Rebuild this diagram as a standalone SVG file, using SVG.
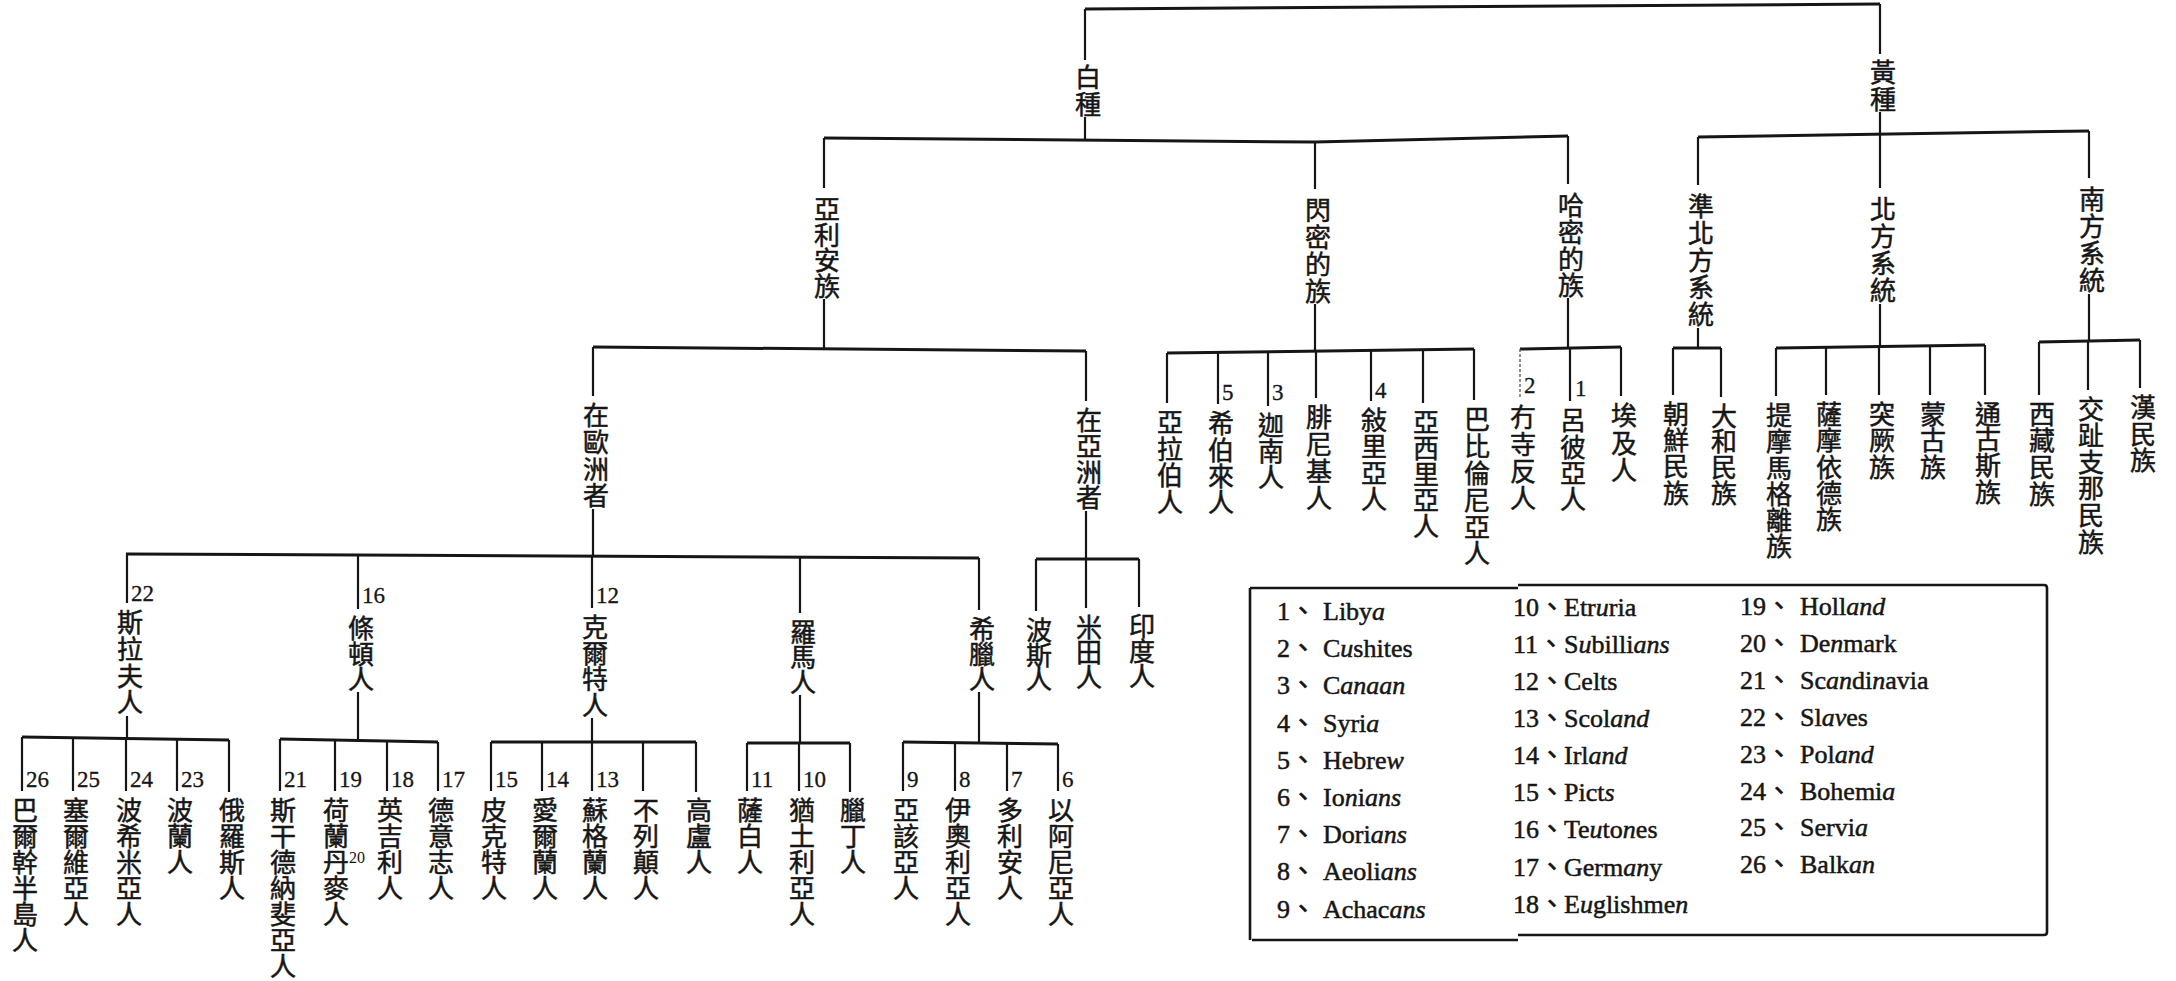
<svg xmlns="http://www.w3.org/2000/svg" width="2176" height="981" viewBox="0 0 2176 981">
<style>
.ln{fill:none;stroke:#161616;stroke-width:2.2}
.hz{fill:none;stroke:#161616;stroke-width:3}
.thin{fill:none;stroke:#555;stroke-width:1.3;stroke-dasharray:3 2}
.c{font-family:"Noto Sans CJK TC","Noto Sans CJK JP",sans-serif;font-size:26px;fill:#161616;stroke:#161616;stroke-width:0.5;text-anchor:middle;dominant-baseline:central}
.n{font-size:23px;fill:#161616;stroke:#161616;stroke-width:0.3;dominant-baseline:central}
.ns{font-size:16px;fill:#161616;dominant-baseline:central}
.lg{font-size:26px;fill:#161616;stroke:#161616;stroke-width:0.5}
.cm{font-family:"Noto Sans CJK TC","Noto Sans CJK JP",sans-serif}
.i{font-style:italic}
.box{fill:none;stroke:#161616;stroke-width:2.6}
</style>
<rect width="2176" height="981" fill="#ffffff"/>
<g id="connectors">
<path class="hz" d="M1085,9 L1880,4"/>
<path class="ln" d="M1085,9 V60 M1085,117 V140 M1880,4 V54 M1880,112 V133"/>
<path class="hz" d="M824,138 L1315,142 L1568,136"/>
<path class="ln" d="M824,138 V188 M824,299 V348 M1315,142 V189 M1315,304 V351 M1568,136 V184 M1568,298 V348"/>
<path class="hz" d="M1698,137 L2089,131"/>
<path class="ln" d="M1698,137 V185 M1698,328 V348 M1880,133 V188 M1880,304 V346 M2089,131 V178 M2089,294 V341"/>
<path class="hz" d="M1167,353 L1474,349"/>
<path class="ln" d="M1167,353 V403 M1218,352 V404 M1268,352 V406 M1316,351 V398 M1371,350 V401 M1423,350 V403 M1474,349 V400"/>
<path class="hz" d="M1520,349 L1621,347"/>
<path class="thin" d="M1520,349 V398"/>
<path class="ln" d="M1570,348 V401 M1621,347 V396"/>
<path class="hz" d="M1673,348 H1721"/>
<path class="ln" d="M1673,348 V395 M1721,348 V397"/>
<path class="hz" d="M1776,348 L1985,345"/>
<path class="ln" d="M1776,348 V396 M1826,347 V395 M1879,346 V395 M1930,346 V395 M1985,345 V395"/>
<path class="hz" d="M2039,342 L2140,340"/>
<path class="ln" d="M2039,342 V395 M2088,341 V390 M2140,340 V388"/>
<path class="hz" d="M593,347 L1086,351"/>
<path class="ln" d="M593,347 V396 M593,509 V555 M1086,351 V401 M1086,511 V559"/>
<path class="hz" d="M126,554 L979,558"/>
<path class="ln" d="M127,554 V603 M127,716 V738 M358,555 V609 M358,692 V740 M592,556 V608 M592,718 V742 M800,557 V613 M800,695 V743 M979,558 V610 M979,692 V743"/>
<path class="hz" d="M1036,559 H1139"/>
<path class="ln" d="M1036,559 V611 M1086,559 V608 M1139,559 V607"/>
<path class="hz" d="M22,737 L229,740"/>
<path class="ln" d="M22,737 V791 M73,738 V791 M126,738 V791 M177,739 V791 M229,740 V792"/>
<path class="hz" d="M280,739 L438,742"/>
<path class="ln" d="M280,739 V791 M335,740 V791 M387,741 V791 M438,742 V791"/>
<path class="hz" d="M491,742 H696"/>
<path class="ln" d="M491,742 V791 M542,742 V791 M592,742 V791 M643,742 V791 M696,742 V792"/>
<path class="hz" d="M747,743 H850"/>
<path class="ln" d="M747,743 V791 M799,743 V791 M850,743 V792"/>
<path class="hz" d="M903,742 L1058,744"/>
<path class="ln" d="M903,742 V791 M955,743 V791 M1007,743 V791 M1058,744 V791"/>
</g>
<g id="n-baizhong"><text class="c" x="1088 1088" y="75 102">白種</text></g>
<g id="n-huangzhong"><text class="c" x="1883 1883" y="70 97">黃種</text></g>
<g id="n-aryan"><text class="c" x="827 827 827 827" y="207 233 258 284">亞利安族</text></g>
<g id="n-semitic"><text class="c" x="1318 1318 1318 1318" y="208 235 262 289">閃密的族</text></g>
<g id="n-hamitic"><text class="c" x="1571 1571 1571 1571" y="203 230 257 283">哈密的族</text></g>
<g id="n-subnorth"><text class="c" x="1701 1701 1701 1701 1701" y="204 231 258 285 312">準北方系統</text></g>
<g id="n-north"><text class="c" x="1883 1883 1883 1883" y="207 234 261 288">北方系統</text></g>
<g id="n-south"><text class="c" x="2092 2092 2092 2092" y="197 224 251 278">南方系統</text></g>
<g id="n-europe"><text class="c" x="596 596 596 596" y="413 440 467 493">在歐洲者</text></g>
<g id="n-asia"><text class="c" x="1089 1089 1089 1089" y="418 444 470 495">在亞洲者</text></g>
<g id="n-arab"><text class="c" x="1170 1170 1170 1170" y="420 447 473 500">亞拉伯人</text></g>
<g id="numbers" font-family="'Liberation Serif', 'DejaVu Serif', serif">
<text class="n" x="1222" y="392">5</text>
<text class="n" x="1272" y="392">3</text>
<text class="n" x="1375" y="390">4</text>
<text class="n" x="1524" y="385">2</text>
<text class="n" x="1575" y="388">1</text>
<text class="n" x="131" y="593">22</text>
<text class="n" x="362" y="595">16</text>
<text class="n" x="596" y="595">12</text>
<text class="n" x="26" y="779">26</text>
<text class="n" x="77" y="779">25</text>
<text class="n" x="130" y="779">24</text>
<text class="n" x="181" y="779">23</text>
<text class="n" x="284" y="779">21</text>
<text class="n" x="339" y="779">19</text>
<text class="ns" x="349" y="857">20</text>
<text class="n" x="391" y="779">18</text>
<text class="n" x="442" y="779">17</text>
<text class="n" x="495" y="779">15</text>
<text class="n" x="546" y="779">14</text>
<text class="n" x="596" y="779">13</text>
<text class="n" x="751" y="779">11</text>
<text class="n" x="803" y="779">10</text>
<text class="n" x="907" y="779">9</text>
<text class="n" x="959" y="779">8</text>
<text class="n" x="1011" y="779">7</text>
<text class="n" x="1062" y="779">6</text>
</g>
<g id="n-hebrew"><text class="c" x="1221 1221 1221 1221" y="421 448 474 500">希伯來人</text></g>
<g id="n-canaan"><text class="c" x="1271 1271 1271" y="423 449 475">迦南人</text></g>
<g id="n-phoen"><text class="c" x="1319 1319 1319 1319" y="415 442 469 496">腓尼基人</text></g>
<g id="n-syria"><text class="c" x="1374 1374 1374 1374" y="418 444 471 497">敍里亞人</text></g>
<g id="n-assyria"><text class="c" x="1426 1426 1426 1426 1426" y="420 446 472 498 524">亞西里亞人</text></g>
<g id="n-babylon"><text class="c" x="1477 1477 1477 1477 1477 1477" y="417 444 471 498 525 551">巴比倫尼亞人</text></g>
<g id="n-cush"><text class="c" x="1523 1523 1523 1523" y="415 442 469 496">冇寺反人</text></g>
<g id="n-libya"><text class="c" x="1573 1573 1573 1573" y="418 445 471 497">呂彼亞人</text></g>
<g id="n-egypt"><text class="c" x="1624 1624 1624" y="413 441 468">埃及人</text></g>
<g id="n-korea"><text class="c" x="1676 1676 1676 1676" y="412 438 464 491">朝鮮民族</text></g>
<g id="n-yamato"><text class="c" x="1724 1724 1724 1724" y="414 439 465 491">大和民族</text></g>
<g id="n-timo"><text class="c" x="1779 1779 1779 1779 1779 1779" y="413 439 466 492 518 544">提摩馬格離族</text></g>
<g id="n-samoyed"><text class="c" x="1829 1829 1829 1829 1829" y="412 438 465 491 517">薩摩依德族</text></g>
<g id="n-turk"><text class="c" x="1882 1882 1882" y="412 438 465">突厥族</text></g>
<g id="n-mongol"><text class="c" x="1933 1933 1933" y="412 438 465">蒙古族</text></g>
<g id="n-tungus"><text class="c" x="1988 1988 1988 1988" y="412 437 463 490">通古斯族</text></g>
<g id="n-tibet"><text class="c" x="2042 2042 2042 2042" y="412 438 465 492">西藏民族</text></g>
<g id="n-indochina"><text class="c" x="2091 2091 2091 2091 2091 2091" y="407 433 460 486 513 540">交趾支那民族</text></g>
<g id="n-han"><text class="c" x="2143 2143 2143" y="405 432 458">漢民族</text></g>
<g id="n-slav"><text class="c" x="130 130 130 130" y="620 647 674 700">斯拉夫人</text></g>
<g id="n-teuton"><text class="c" x="361 361 361" y="626 652 677">條頓人</text></g>
<g id="n-celt"><text class="c" x="595 595 595 595" y="625 651 677 703">克爾特人</text></g>
<g id="n-roman"><text class="c" x="803 803 803" y="630 655 680">羅馬人</text></g>
<g id="n-greek"><text class="c" x="982 982 982" y="627 652 677">希臘人</text></g>
<g id="n-persia"><text class="c" x="1039 1039 1039" y="628 653 677">波斯人</text></g>
<g id="n-mitian"><text class="c" x="1089 1089 1089" y="625 650 675">米田人</text></g>
<g id="n-india"><text class="c" x="1142 1142 1142" y="624 649 674">印度人</text></g>
<g id="n-balkan"><text class="c" x="25 25 25 25 25 25" y="808 834 860 886 912 938">巴爾幹半島人</text></g>
<g id="n-servia"><text class="c" x="76 76 76 76 76" y="808 834 860 886 912">塞爾維亞人</text></g>
<g id="n-bohemia"><text class="c" x="129 129 129 129 129" y="808 834 860 886 912">波希米亞人</text></g>
<g id="n-poland"><text class="c" x="180 180 180" y="808 834 860">波蘭人</text></g>
<g id="n-russia"><text class="c" x="232 232 232 232" y="808 834 860 886">俄羅斯人</text></g>
<g id="n-scand"><text class="c" x="283 283 283 283 283 283 283" y="808 834 860 886 912 938 964">斯干德納斐亞人</text></g>
<g id="n-holland"><text class="c" x="336 336 336 336 336" y="808 834 860 886 912">荷蘭丹麥人</text></g>
<g id="n-english"><text class="c" x="390 390 390 390" y="808 834 860 886">英吉利人</text></g>
<g id="n-german"><text class="c" x="441 441 441 441" y="808 834 860 886">德意志人</text></g>
<g id="n-pict"><text class="c" x="494 494 494 494" y="808 834 860 886">皮克特人</text></g>
<g id="n-irish"><text class="c" x="545 545 545 545" y="808 834 860 886">愛爾蘭人</text></g>
<g id="n-scot"><text class="c" x="595 595 595 595" y="808 834 860 886">蘇格蘭人</text></g>
<g id="n-briton"><text class="c" x="646 646 646 646" y="808 834 860 886">不列顛人</text></g>
<g id="n-gaul"><text class="c" x="699 699 699" y="808 834 860">高盧人</text></g>
<g id="n-sabine"><text class="c" x="750 750 750" y="808 834 860">薩白人</text></g>
<g id="n-etruria"><text class="c" x="802 802 802 802 802" y="808 834 860 886 912">猶土利亞人</text></g>
<g id="n-latin"><text class="c" x="853 853 853" y="808 834 860">臘丁人</text></g>
<g id="n-achaean"><text class="c" x="906 906 906 906" y="808 834 860 886">亞該亞人</text></g>
<g id="n-aeolian"><text class="c" x="958 958 958 958 958" y="808 834 860 886 912">伊奧利亞人</text></g>
<g id="n-dorian"><text class="c" x="1010 1010 1010 1010" y="808 834 860 886">多利安人</text></g>
<g id="n-ionian"><text class="c" x="1061 1061 1061 1061 1061" y="808 834 860 886 912">以阿尼亞人</text></g>
<g id="legend" font-family="'Liberation Serif', 'DejaVu Serif', serif">
<path class="box" d="M1250,588 H1518 M1518,585 H2044 Q2047,585 2047,588 V932 Q2047,935 2044,935 H1518 M1518,940 H1252 M1250,588 V940"/>
<text class="lg" x="1277" y="620">1<tspan class="cm">、</tspan><tspan x="1323">Liby<tspan class="i">a</tspan></tspan></text>
<text class="lg" x="1277" y="657">2<tspan class="cm">、</tspan><tspan x="1323">C<tspan class="i">u</tspan>shites</tspan></text>
<text class="lg" x="1277" y="694">3<tspan class="cm">、</tspan><tspan x="1323">C<tspan class="i">anaan</tspan></tspan></text>
<text class="lg" x="1277" y="732">4<tspan class="cm">、</tspan><tspan x="1323">Syri<tspan class="i">a</tspan></tspan></text>
<text class="lg" x="1277" y="769">5<tspan class="cm">、</tspan><tspan x="1323">Hebre<tspan class="i">w</tspan></tspan></text>
<text class="lg" x="1277" y="806">6<tspan class="cm">、</tspan><tspan x="1323">Io<tspan class="i">n</tspan>i<tspan class="i">ans</tspan></tspan></text>
<text class="lg" x="1277" y="843">7<tspan class="cm">、</tspan><tspan x="1323">Dori<tspan class="i">ans</tspan></tspan></text>
<text class="lg" x="1277" y="880">8<tspan class="cm">、</tspan><tspan x="1323">Aeoli<tspan class="i">ans</tspan></tspan></text>
<text class="lg" x="1277" y="918">9<tspan class="cm">、</tspan><tspan x="1323">Achac<tspan class="i">ans</tspan></tspan></text>
<text class="lg" x="1513" y="616">10<tspan class="cm">、</tspan><tspan x="1564">Etr<tspan class="i">u</tspan>ria</tspan></text>
<text class="lg" x="1513" y="653">11<tspan class="cm">、</tspan><tspan x="1564">S<tspan class="i">u</tspan>billi<tspan class="i">ans</tspan></tspan></text>
<text class="lg" x="1513" y="690">12<tspan class="cm">、</tspan><tspan x="1564">Celts</tspan></text>
<text class="lg" x="1513" y="727">13<tspan class="cm">、</tspan><tspan x="1564">Scol<tspan class="i">and</tspan></tspan></text>
<text class="lg" x="1513" y="764">14<tspan class="cm">、</tspan><tspan x="1564">Irl<tspan class="i">and</tspan></tspan></text>
<text class="lg" x="1513" y="801">15<tspan class="cm">、</tspan><tspan x="1564">Pict<tspan class="i">s</tspan></tspan></text>
<text class="lg" x="1513" y="838">16<tspan class="cm">、</tspan><tspan x="1564">Te<tspan class="i">u</tspan>to<tspan class="i">n</tspan>es</tspan></text>
<text class="lg" x="1513" y="876">17<tspan class="cm">、</tspan><tspan x="1564">Germ<tspan class="i">an</tspan>y</tspan></text>
<text class="lg" x="1513" y="913">18<tspan class="cm">、</tspan><tspan x="1564">E<tspan class="i">u</tspan>glishme<tspan class="i">n</tspan></tspan></text>
<text class="lg" x="1740" y="615">19<tspan class="cm">、</tspan><tspan x="1800">Holl<tspan class="i">and</tspan></tspan></text>
<text class="lg" x="1740" y="652">20<tspan class="cm">、</tspan><tspan x="1800">De<tspan class="i">n</tspan>mark</tspan></text>
<text class="lg" x="1740" y="689">21<tspan class="cm">、</tspan><tspan x="1800">Sc<tspan class="i">an</tspan>di<tspan class="i">n</tspan>avia</tspan></text>
<text class="lg" x="1740" y="726">22<tspan class="cm">、</tspan><tspan x="1800">Sl<tspan class="i">av</tspan>es</tspan></text>
<text class="lg" x="1740" y="763">23<tspan class="cm">、</tspan><tspan x="1800">Pol<tspan class="i">and</tspan></tspan></text>
<text class="lg" x="1740" y="800">24<tspan class="cm">、</tspan><tspan x="1800">Bohemi<tspan class="i">a</tspan></tspan></text>
<text class="lg" x="1740" y="836">25<tspan class="cm">、</tspan><tspan x="1800">Servi<tspan class="i">a</tspan></tspan></text>
<text class="lg" x="1740" y="873">26<tspan class="cm">、</tspan><tspan x="1800">Balk<tspan class="i">an</tspan></tspan></text>
</g>
</svg>
